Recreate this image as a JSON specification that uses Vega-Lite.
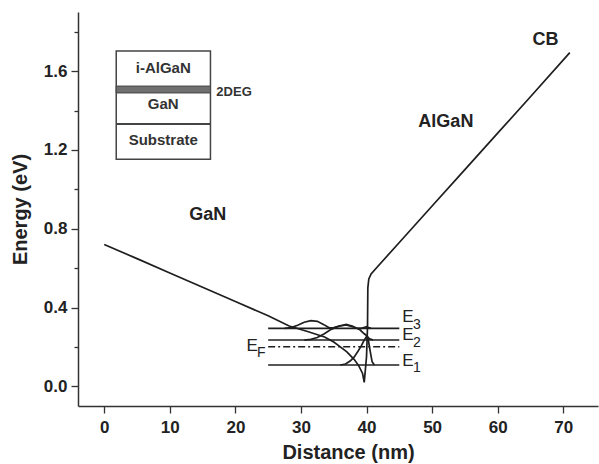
{
  "$schema": "https://vega.github.io/schema/vega-lite/v6.json",
  "width": 520,
  "height": 394,
  "autosize": "none",
  "padding": {"left": 78, "top": 12, "right": 1, "bottom": 58},
  "background": "white",
  "config": {
    "view": {"stroke": null},
    "font": "Liberation Sans",
    "axis": {
      "domainColor": "#333333",
      "domainWidth": 1.5,
      "tickColor": "#333333",
      "tickWidth": 1.3,
      "grid": false,
      "labelFont": "Liberation Sans",
      "labelFontWeight": "bold",
      "labelFontSize": 17,
      "labelColor": "#222222",
      "titleFont": "Liberation Sans",
      "titleFontWeight": "bold",
      "titleFontSize": 20,
      "titleColor": "#222222"
    }
  },
  "datasets": {
    "curves": [
      {"s": "band", "x": 0, "y": 0.72},
      {"s": "band", "x": 5, "y": 0.648},
      {"s": "band", "x": 10, "y": 0.575},
      {"s": "band", "x": 15, "y": 0.503},
      {"s": "band", "x": 20, "y": 0.43},
      {"s": "band", "x": 25, "y": 0.358},
      {"s": "band", "x": 28.2, "y": 0.306},
      {"s": "band", "x": 31, "y": 0.278},
      {"s": "band", "x": 33.6, "y": 0.25},
      {"s": "band", "x": 35, "y": 0.225},
      {"s": "band", "x": 35.8, "y": 0.205},
      {"s": "band", "x": 37, "y": 0.175},
      {"s": "band", "x": 38.1, "y": 0.137},
      {"s": "band", "x": 38.8, "y": 0.105},
      {"s": "band", "x": 39.4, "y": 0.065},
      {"s": "band", "x": 39.65, "y": 0.02},
      {"s": "band", "x": 40.0, "y": 0.15},
      {"s": "band", "x": 40.15, "y": 0.3},
      {"s": "band", "x": 40.2, "y": 0.5},
      {"s": "band", "x": 40.35, "y": 0.545},
      {"s": "band", "x": 40.7, "y": 0.57},
      {"s": "band", "x": 41.4, "y": 0.597},
      {"s": "band", "x": 45, "y": 0.73},
      {"s": "band", "x": 50, "y": 0.915},
      {"s": "band", "x": 55, "y": 1.1},
      {"s": "band", "x": 60, "y": 1.285},
      {"s": "band", "x": 65, "y": 1.47},
      {"s": "band", "x": 71, "y": 1.694},
      {"s": "psi1", "x": 36.0, "y": 0.108},
      {"s": "psi1", "x": 36.8, "y": 0.113},
      {"s": "psi1", "x": 37.5, "y": 0.128},
      {"s": "psi1", "x": 38.1, "y": 0.148},
      {"s": "psi1", "x": 38.7, "y": 0.178},
      {"s": "psi1", "x": 39.2, "y": 0.205},
      {"s": "psi1", "x": 39.6, "y": 0.232},
      {"s": "psi1", "x": 39.95, "y": 0.25},
      {"s": "psi1", "x": 40.25, "y": 0.24},
      {"s": "psi1", "x": 40.55, "y": 0.18},
      {"s": "psi1", "x": 40.85, "y": 0.125},
      {"s": "psi1", "x": 41.2, "y": 0.108},
      {"s": "psi2", "x": 30.5, "y": 0.235},
      {"s": "psi2", "x": 31.5, "y": 0.238},
      {"s": "psi2", "x": 32.5, "y": 0.248},
      {"s": "psi2", "x": 33.5, "y": 0.266},
      {"s": "psi2", "x": 34.5, "y": 0.287},
      {"s": "psi2", "x": 35.8, "y": 0.305},
      {"s": "psi2", "x": 36.9, "y": 0.311},
      {"s": "psi2", "x": 38.0, "y": 0.302},
      {"s": "psi2", "x": 39.0, "y": 0.287},
      {"s": "psi2", "x": 39.6, "y": 0.268},
      {"s": "psi2", "x": 40.0, "y": 0.258},
      {"s": "psi2", "x": 40.4, "y": 0.242},
      {"s": "psi2", "x": 41.0, "y": 0.235},
      {"s": "psi3", "x": 27.5, "y": 0.294},
      {"s": "psi3", "x": 28.5, "y": 0.298},
      {"s": "psi3", "x": 29.5, "y": 0.31},
      {"s": "psi3", "x": 30.5, "y": 0.325},
      {"s": "psi3", "x": 31.5, "y": 0.333},
      {"s": "psi3", "x": 32.5, "y": 0.33},
      {"s": "psi3", "x": 33.5, "y": 0.313},
      {"s": "psi3", "x": 34.3, "y": 0.297},
      {"s": "psi3", "x": 35.0, "y": 0.298},
      {"s": "psi3", "x": 35.8, "y": 0.306},
      {"s": "psi3", "x": 36.9, "y": 0.314},
      {"s": "psi3", "x": 37.8, "y": 0.306},
      {"s": "psi3", "x": 38.4, "y": 0.296},
      {"s": "psi3", "x": 39.2, "y": 0.294},
      {"s": "psi3", "x": 39.7, "y": 0.299},
      {"s": "psi3", "x": 40.0, "y": 0.303},
      {"s": "psi3", "x": 40.3, "y": 0.298},
      {"s": "psi3", "x": 40.7, "y": 0.294}
    ],
    "levels": [
      {"name": "E3", "kind": "level", "x": 25, "x2": 45, "y": 0.294},
      {"name": "E2", "kind": "level", "x": 25, "x2": 45, "y": 0.235},
      {"name": "EF", "kind": "fermi", "x": 25, "x2": 45, "y": 0.201},
      {"name": "E1", "kind": "level", "x": 25, "x2": 45, "y": 0.108}
    ],
    "box": [{"x": 1.83, "x2": 16.2, "y": 1.152, "y2": 1.702}],
    "deg": [{"x": 1.83, "x2": 16.2, "y": 1.489, "y2": 1.524}],
    "divider": [{"x": 1.83, "x2": 16.2, "y": 1.331}],
    "regions": [
      {"x": 15.8, "y": 0.87, "text": "GaN"},
      {"x": 52.1, "y": 1.343, "text": "AlGaN"},
      {"x": 67.3, "y": 1.758, "text": "CB"}
    ],
    "inset": [
      {"x": 9.0, "y": 1.616, "text": "i-AlGaN"},
      {"x": 9.0, "y": 1.433, "text": "GaN"},
      {"x": 9.0, "y": 1.25, "text": "Substrate"}
    ],
    "tdeg": [{"x": 17.1, "y": 1.495, "text": "2DEG"}],
    "elabel": [
      {"x": 45.45, "y": 0.353, "text": "E"},
      {"x": 45.45, "y": 0.259, "text": "E"},
      {"x": 45.45, "y": 0.129, "text": "E"},
      {"x": 21.7, "y": 0.206, "text": "E"}
    ],
    "esub": [
      {"x": 47.1, "y": 0.309, "text": "3"},
      {"x": 47.1, "y": 0.22, "text": "2"},
      {"x": 47.1, "y": 0.093, "text": "1"},
      {"x": 23.3, "y": 0.167, "text": "F"}
    ]
  },
  "layer": [
    {
      "data": {"name": "curves"},
      "mark": {"type": "line", "color": "#1e1e1e", "strokeWidth": 1.7},
      "encoding": {
        "x": {
          "field": "x", "type": "quantitative",
          "scale": {"domain": [-4, 75.3], "nice": false, "zero": false},
          "axis": {
            "title": "Distance (nm)",
            "values": [0, 5, 10, 15, 20, 25, 30, 35, 40, 45, 50, 55, 60, 65, 70, 75],
            "format": "d",
            "labelExpr": "datum.value % 10 === 0 ? datum.label : ''",
            "tickSize": {"condition": {"test": "datum.value % 10 === 0", "value": 7}, "value": 4},
            "labelPadding": 6,
            "titlePadding": 7,
            "titleX": 270
          }
        },
        "y": {
          "field": "y", "type": "quantitative",
          "scale": {"domain": [-0.1, 1.9], "nice": false, "zero": false},
          "axis": {
            "title": "Energy (eV)",
            "values": [0, 0.2, 0.4, 0.6, 0.8, 1.0, 1.2, 1.4, 1.6, 1.8],
            "format": ".1f",
            "labelExpr": "round(datum.value * 10) % 4 === 0 ? datum.label : ''",
            "tickSize": {"condition": {"test": "round(datum.value * 10) % 4 === 0", "value": 7}, "value": 4},
            "labelPadding": 4,
            "titlePadding": 13
          }
        },
        "detail": {"field": "s"}
      }
    },
    {
      "mark": {"type": "rule", "color": "#333333", "strokeWidth": 1.5},
      "encoding": {"y": {"datum": 1.9}}
    },
    {
      "data": {"name": "levels"},
      "mark": {"type": "rule", "color": "#1e1e1e", "strokeWidth": 1.6},
      "encoding": {
        "x": {"field": "x", "type": "quantitative"},
        "x2": {"field": "x2"},
        "y": {"field": "y", "type": "quantitative"},
        "strokeDash": {
          "field": "kind", "type": "nominal",
          "scale": {"domain": ["level", "fermi"], "range": [[1, 0], [7, 3, 2, 3]]},
          "legend": null
        }
      }
    },
    {
      "data": {"name": "box"},
      "mark": {"type": "rect", "fill": "white", "stroke": "#444444", "strokeWidth": 1.5},
      "encoding": {
        "x": {"field": "x", "type": "quantitative"},
        "x2": {"field": "x2"},
        "y": {"field": "y", "type": "quantitative"},
        "y2": {"field": "y2"}
      }
    },
    {
      "data": {"name": "deg"},
      "mark": {"type": "rect", "fill": "#707070", "stroke": "#444444", "strokeWidth": 1},
      "encoding": {
        "x": {"field": "x", "type": "quantitative"},
        "x2": {"field": "x2"},
        "y": {"field": "y", "type": "quantitative"},
        "y2": {"field": "y2"}
      }
    },
    {
      "data": {"name": "divider"},
      "mark": {"type": "rule", "color": "#444444", "strokeWidth": 2},
      "encoding": {
        "x": {"field": "x", "type": "quantitative"},
        "x2": {"field": "x2"},
        "y": {"field": "y", "type": "quantitative"}
      }
    },
    {
      "data": {"name": "regions"},
      "mark": {"type": "text", "font": "Liberation Sans", "fontWeight": "bold", "fontSize": 18, "color": "#222222", "align": "center", "baseline": "middle"},
      "encoding": {
        "x": {"field": "x", "type": "quantitative"},
        "y": {"field": "y", "type": "quantitative"},
        "text": {"field": "text"}
      }
    },
    {
      "data": {"name": "inset"},
      "mark": {"type": "text", "font": "Liberation Sans", "fontWeight": "bold", "fontSize": 15, "color": "#333333", "align": "center", "baseline": "middle"},
      "encoding": {
        "x": {"field": "x", "type": "quantitative"},
        "y": {"field": "y", "type": "quantitative"},
        "text": {"field": "text"}
      }
    },
    {
      "data": {"name": "tdeg"},
      "mark": {"type": "text", "font": "Liberation Sans", "fontWeight": "bold", "fontSize": 13, "color": "#333333", "align": "left", "baseline": "middle"},
      "encoding": {
        "x": {"field": "x", "type": "quantitative"},
        "y": {"field": "y", "type": "quantitative"},
        "text": {"field": "text"}
      }
    },
    {
      "data": {"name": "elabel"},
      "mark": {"type": "text", "font": "Liberation Sans", "fontSize": 17, "color": "#222222", "align": "left", "baseline": "middle"},
      "encoding": {
        "x": {"field": "x", "type": "quantitative"},
        "y": {"field": "y", "type": "quantitative"},
        "text": {"field": "text"}
      }
    },
    {
      "data": {"name": "esub"},
      "mark": {"type": "text", "font": "Liberation Sans", "fontSize": 14, "color": "#222222", "align": "left", "baseline": "middle"},
      "encoding": {
        "x": {"field": "x", "type": "quantitative"},
        "y": {"field": "y", "type": "quantitative"},
        "text": {"field": "text"}
      }
    }
  ]
}
